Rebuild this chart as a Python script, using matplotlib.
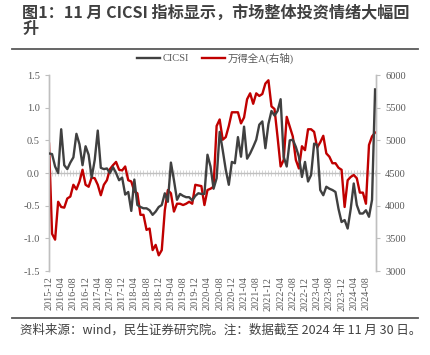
import matplotlib
matplotlib.use("Agg")
import matplotlib.pyplot as plt
from matplotlib.lines import Line2D
import numpy as np
import pandas as pd

plt.rcParams['font.family'] = ['Liberation Serif', 'Noto Sans CJK SC', 'DejaVu Sans']

# 月度数据 2015-12 ~ 2024-11
months = pd.period_range('2015-12', '2024-11', freq='M').strftime('%Y-%m').tolist()

cicsi = [0.30, 0.29, 0.10, 0.00, 0.67, 0.12, 0.06, 0.16, 0.24, 0.60,
         0.44, 0.12, 0.41, 0.28, -0.07, 0.20, 0.65, 0.08, 0.06, 0.07,
         0.00, 0.09, 0.00, -0.11, -0.07, -0.33, -0.29, -0.58, -0.10, -0.49,
         -0.52, -0.54, -0.54, -0.57, -0.64, -0.59, -0.52, -0.49, -0.31, -0.44,
         0.16, -0.11, -0.41, -0.32, -0.35, -0.37, -0.37, -0.42, -0.35, -0.31,
         -0.32, -0.32, 0.28, 0.10, -0.24, -0.08, 0.63, 0.35, 0.05, -0.18,
         0.17, 0.15, 0.55, 0.25, 0.71, 0.22, 0.30, 0.40, 0.51, 0.74,
         0.79, 0.38, 0.75, 0.95, 0.88, 0.95, 1.13, 0.25, 0.10, 0.50,
         0.51, 0.40, 0.25, -0.06, 0.17, -0.13, -0.03, 0.45, 0.43, -0.26,
         -0.34, -0.21, -0.24, -0.26, -0.29, -0.55, -0.75, -0.72, -0.85, -0.55,
         -0.16, -0.49, -0.62, -0.62, -0.57, -0.67, -0.41, 1.28]

wind_a = [4950, 3570, 3480, 4060, 3980, 3970, 4110, 4140, 4320, 4250,
          4370, 4550, 4320, 4290, 4430, 4420, 4320, 4160, 4320, 4390,
          4560, 4620, 4670, 4550, 4540, 4600, 4390, 4370, 4220, 4190,
          3860, 3860, 3630, 3650, 3320, 3400, 3240, 3320, 3930, 4240,
          4190, 3910, 4030, 4030, 4010, 4030, 4060, 4030, 4320, 4310,
          4300, 4010, 4240, 4260, 4290, 5220, 5320, 5010, 5050, 5220,
          5430, 5430, 5430, 5260, 5350, 5630, 5720, 5560, 5720, 5680,
          5710, 5870, 5920, 5520, 5480, 5050, 4600, 4700, 5360, 5210,
          5060, 4700, 4570, 4910, 4850, 5170, 5170, 5130, 4890, 4970,
          5070, 4800, 4750, 4650, 4650, 4580, 4550, 3980, 4390, 4440,
          4470, 4420, 4200, 4200, 4030, 4930, 5060, 5120]

xlabels = months[::4]
x = np.arange(len(months))

fig = plt.figure(figsize=(4.31, 3.55), dpi=100)
ax = fig.add_axes([0.1137, 0.2366, 0.7587, 0.552])
ax2 = ax.twinx()

# 零轴及月度刻度（放在最下层）
zax = ax2.secondary_xaxis(0.5)
zax.set_xticks(x)
zax.set_xticklabels([])
zax.tick_params(direction='inout', length=4, color='#d0d0d0', width=0.6)
for s in zax.spines.values():
    s.set_color('#c0c0c0')
    s.set_linewidth(1.0)

l1, = ax.plot(x, cicsi, color='#404040', lw=1.7, label='CICSI', zorder=3)
l2, = ax2.plot(x, wind_a, color='#C00000', lw=1.7, label='万得全A(右轴)', zorder=3)
ax.set_zorder(ax2.get_zorder() + 1)
ax.patch.set_visible(False)

ax.set_xlim(0, 107.3)
ax.set_ylim(-1.5, 1.5)
ax2.set_ylim(3000, 6000)
ax.set_yticks(np.arange(-1.5, 1.51, 0.5))
ax.set_yticklabels(['%.1f' % v for v in np.arange(-1.5, 1.51, 0.5)])
ax2.set_yticks(np.arange(3000, 6001, 500))

ax.set_xticks(x[::4])
ax.set_xticklabels(xlabels, rotation=90, fontsize=7.3, color='#595959')
ax.tick_params(axis='x', length=0, pad=4)
ax.tick_params(axis='y', labelsize=7.5, colors='#595959', length=3, color='#bfbfbf', width=0.8)
ax2.tick_params(axis='y', labelsize=7.5, colors='#595959', length=3, color='#bfbfbf', width=0.8)

for a in (ax, ax2):
    for s in ('top', 'bottom'):
        a.spines[s].set_visible(False)
    for s in ('left', 'right'):
        a.spines[s].set_color('#bfbfbf')
        a.spines[s].set_linewidth(1.0)

fig.legend(handles=[l1, l2], loc='center', bbox_to_anchor=(0.5, 1 - 58 / 355),
           ncol=2, frameon=False, fontsize=7.5, handlelength=2.2,
           columnspacing=1.2, handletextpad=0.3, labelcolor='#595959')

fig.text(22 / 431, 1 - 4 / 355, '图1：11 月 CICSI 指标显示，市场整体投资情绪大幅回\n升',
         fontsize=11.6, fontweight='bold', color='#404040', va='top', ha='left',
         family=['Noto Sans CJK SC', 'DejaVu Sans'], linespacing=1.05)
fig.text(20 / 431, 1 - 330 / 355, '资料来源：wind，民生证券研究院。注：数据截至 2024 年 11 月 30 日。',
         fontsize=9, color='#404040', va='center', ha='left',
         family=['Noto Sans CJK SC', 'DejaVu Sans'])

fig.add_artist(Line2D([12 / 431, 418 / 431], [1 - 49 / 355, 1 - 49 / 355],
                      color='#595959', lw=1.3, transform=fig.transFigure))
fig.add_artist(Line2D([12 / 431, 418 / 431], [1 - 318 / 355, 1 - 318 / 355],
                      color='#595959', lw=1.3, transform=fig.transFigure))

fig.savefig('out.png', dpi=100)
